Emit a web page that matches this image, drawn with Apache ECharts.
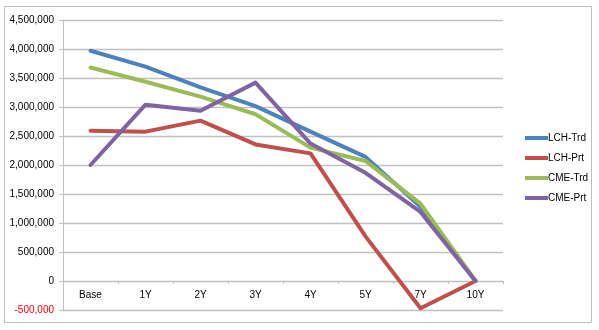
<!DOCTYPE html>
<html>
<head>
<meta charset="utf-8">
<script src="https://cdn.jsdelivr.net/npm/echarts@6/dist/echarts.min.js"></script>
<style>
  html, body { margin: 0; padding: 0; background: #ffffff; }
  #chart { width: 599px; height: 330px; }
</style>
</head>
<body>
<div id="chart"></div>
<script>
// Tenor buckets along the horizontal axis
var categories = ['Base', '1Y', '2Y', '3Y', '4Y', '5Y', '7Y', '10Y'];

// Series values per tenor
var lchTrd = [3970000, 3695000, 3340000, 3015000, 2575000, 2140000, 1280000, 0];
var lchPrt = [2590000, 2575000, 2765000, 2355000, 2200000, 770000, -470000, 0];
var cmeTrd = [3680000, 3435000, 3180000, 2875000, 2300000, 2070000, 1335000, 0];
var cmePrt = [2000000, 3040000, 2935000, 3420000, 2370000, 1865000, 1190000, 0];

var seriesNames = ['LCH-Trd', 'LCH-Prt', 'CME-Trd', 'CME-Prt'];
var seriesData = [lchTrd, lchPrt, cmeTrd, cmePrt];
var seriesColors = ['#4F81BD', '#C0504D', '#9BBB59', '#8064A2'];

var yMin = -500000, yMax = 4500000, yStep = 500000;
var gridTop = 20, gridBottom = 20, chartHeight = 330;
// lift the category axis from the bottom edge up to the zero line
var plotHeight = chartHeight - gridTop - gridBottom;
var zeroOffset = -plotHeight * (0 - yMin) / (yMax - yMin);

var gridColor = '#c0c0c0';
var font = 'Liberation Sans, Arial, sans-serif';

function fmt(v) {
  var s = Math.abs(v).toString().replace(/\B(?=(\d{3})+(?!\d))/g, ',');
  return (v < 0 ? '-' : '') + s;
}

var chart = echarts.init(document.getElementById('chart'), null, { renderer: 'canvas' });

chart.setOption({
  animation: false,
  backgroundColor: '#ffffff',
  graphic: [{
    type: 'rect',
    shape: { x: 4.5, y: 6.5, width: 587, height: 316 },
    style: { fill: 'none', stroke: '#bfbfbf', lineWidth: 1 },
    silent: true,
    z: -1
  }],
  grid: { left: 63, right: 96, top: gridTop, bottom: gridBottom, containLabel: false },
  legend: {
    orient: 'vertical',
    left: 520,
    top: 128,
    itemWidth: 23,
    itemHeight: 4,
    itemGap: 10,
    icon: 'rect',
    data: seriesNames,
    textStyle: { fontFamily: font, fontSize: 10, color: '#000', padding: [0, 0, 0, -5] }
  },
  xAxis: {
    type: 'category',
    data: categories,
    boundaryGap: true,
    position: 'bottom',
    offset: zeroOffset,
    axisLine: { onZero: false, lineStyle: { color: gridColor, width: 1 } },
    axisTick: { show: true, length: 3, inside: false, lineStyle: { color: gridColor } },
    axisLabel: { fontFamily: font, fontSize: 10, color: '#000', margin: 9 },
    splitLine: { show: false }
  },
  yAxis: {
    type: 'value',
    min: yMin,
    max: yMax,
    interval: yStep,
    axisLine: { show: true, lineStyle: { color: gridColor, width: 1 } },
    axisTick: { show: true, length: 4, lineStyle: { color: gridColor } },
    axisLabel: {
      fontFamily: font,
      fontSize: 10,
      margin: 9,
      formatter: function (v) { return fmt(v); },
      color: function (v) { return Number(v) < 0 ? '#ff0000' : '#000000'; }
    },
    splitLine: { show: true, lineStyle: { color: gridColor, width: 1.3 } }
  },
  series: seriesNames.map(function (name, i) {
    return {
      name: name,
      type: 'line',
      data: seriesData[i],
      symbol: 'none',
      smooth: false,
      color: seriesColors[i],
      lineStyle: { width: 4, color: seriesColors[i], cap: 'round', join: 'round' }
    };
  })
});
</script>
</body>
</html>
